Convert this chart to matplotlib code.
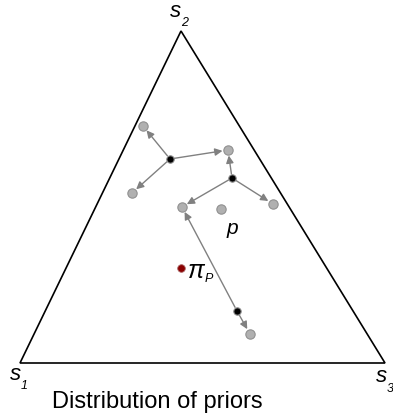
import numpy as np
import matplotlib.pyplot as plt

plt.rcParams['font.family'] = ['Liberation Sans', 'DejaVu Sans']

# simplex corners s1, s2, s3 (canvas coords)
corners_x = [20, 181, 385]
corners_y = [363, 31, 363]

# posterior centres (black) and the beliefs they split into (grey)
centre_x = [170, 232, 237]
centre_y = [159, 178, 311]
grey_x = [143, 132, 228, 182, 273, 250, 221]
grey_y = [126, 193, 150, 207, 204, 334, 209]
# arrows: centre index -> grey index
arrows = [(0, 0), (0, 1), (0, 2), (1, 2), (1, 3), (1, 4), (2, 3), (2, 5)]

prior_x, prior_y = 181, 268

fig = plt.figure(figsize=(3.93, 4.17), dpi=100)
ax = fig.add_axes([0, 0, 1, 1])
ax.set_xlim(0, 393)
ax.set_ylim(417, 0)
ax.axis('off')

ax.fill(corners_x, corners_y, facecolor='none', edgecolor='black', lw=1.2)

for c, g in arrows:
    ax.annotate('', xy=(grey_x[g], grey_y[g]), xytext=(centre_x[c], centre_y[c]),
                arrowprops=dict(arrowstyle='-|>', color='#808080', lw=1,
                                mutation_scale=11, shrinkA=3, shrinkB=4))

ax.scatter(grey_x, grey_y, s=45, color='#b0b0b0', edgecolor='#909090', lw=0.8, zorder=3)
ax.scatter(centre_x, centre_y, s=28, color='black', edgecolor='#888888', lw=0.8, zorder=4)
ax.scatter([prior_x], [prior_y], s=30, color='#8b0000', edgecolor='#aa6666', lw=0.6, zorder=4)

ax.text(232, 228, 'p', fontsize=15, style='italic', ha='center', va='center')
ax.text(196, 271, '\u03c0', fontsize=18, style='italic', ha='center', va='center')
ax.text(209, 279, 'P', fontsize=9, style='italic', ha='center', va='center')

# corner labels with lowered subscripts
for sx, sy, sub in [(15, 374, '1'), (176, 11, '2'), (381, 377, '3')]:
    ax.text(sx, sy, 's', fontsize=16, style='italic', ha='center', va='center')
    ax.text(sx + 9, sy + 12, sub, fontsize=9, style='italic', ha='center', va='center')

ax.text(157, 402, 'Distribution of priors', fontsize=17, ha='center', va='center')

fig.savefig('out.png', dpi=100)
